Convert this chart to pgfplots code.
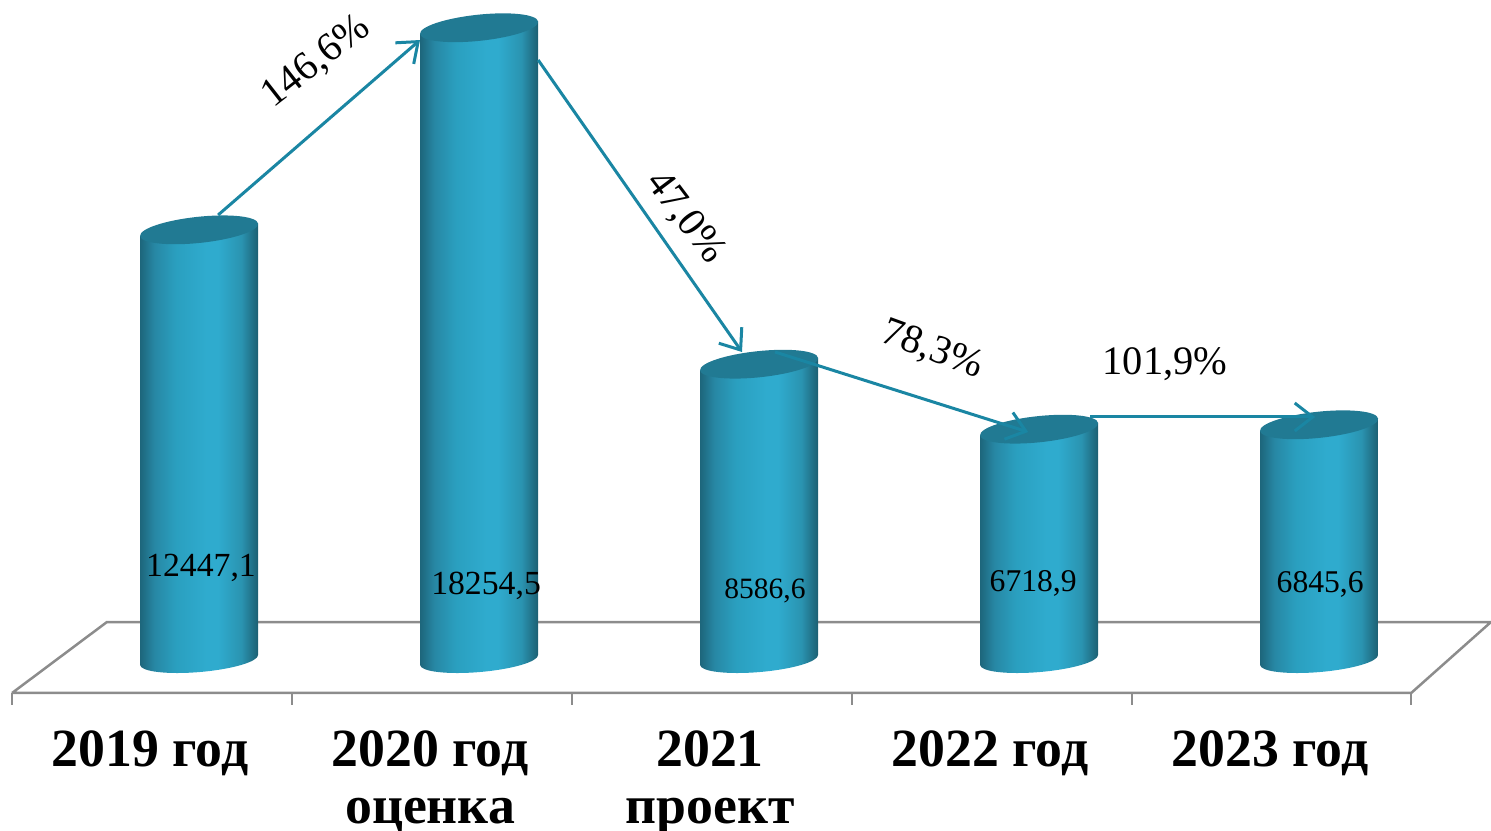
\documentclass[border=0pt]{standalone}
\usepackage{fontspec}
\setmainfont{Liberation Serif}
\usepackage{pgfplots}
\pgfplotsset{compat=1.18}
\usetikzlibrary{arrows.meta}

\definecolor{cyla}{HTML}{1D667B}
\definecolor{cylb}{HTML}{2787A4}
\definecolor{cylc}{HTML}{2A9FBF}
\definecolor{cyld}{HTML}{2FABCE}
\definecolor{cyle}{HTML}{2A93B0}
\definecolor{cylf}{HTML}{1C5F72}
\definecolor{cyltop}{HTML}{217A93}
\definecolor{arrowc}{HTML}{1A86A3}
\definecolor{floorc}{HTML}{8C8C8C}

% the path's box covers 25bp..75bp of the shading
\pgfdeclarehorizontalshading{cyl}{100bp}{color(0bp)=(cyla); color(25bp)=(cyla);
  color(31bp)=(cylb); color(40bp)=(cylc); color(53bp)=(cyld); color(58bp)=(cyld);
  color(68bp)=(cyle); color(75bp)=(cylf); color(100bp)=(cylf)}

\tikzset{growth/.style={arrowc,line width=0.3mm,
  -{Straight Barb[length=1.8mm,width=2.8mm]}}}

\begin{document}
\begin{tikzpicture}
\begin{axis}[
    set layers,
    clip mode=individual,
    scale only axis,
    width=14.91cm, height=6.93cm,
    xmin=-0.711, xmax=4.614,
    ymin=-862, ymax=19052,
    clip=false,
    axis y line=none,
    axis x line=bottom,
    x axis line style={draw=none},
    xtick={-0.175,0.825,1.825,2.825,3.825},
    xticklabels={2019 год,{2020 год\\оценка},{2021\\проект},2022 год,2023 год},
    minor xtick={-0.668,0.332,1.332,2.332,3.332,4.329},
    major tick length=0pt,
    minor tick length=1.2mm,
    tick align=outside,
    minor x tick style={draw=floorc,line width=0.25mm},
    xticklabel style={align=center,yshift=-2.5mm,
      font=\fontsize{15.3}{16.3}\selectfont\bfseries},
]
% floor
\addplot[floorc,line width=0.25mm] coordinates
  {(-0.668,-862) (4.329,-862) (4.614,1178) (-0.329,1178) (-0.668,-862)};

% cylinders, one for each value
\addplot[
    scatter, only marks, mark=*, mark size=0pt,
    mark options={draw=none,fill=none},
    visualization depends on={rawy/1000 \as \rawk},
    scatter/@pre marker code/.code={%
      \pgfmathsetmacro\hh{-\rawk*3.48+0.3}%
      \pgfmathsetmacro\hl{\hh-0.5}\pgfmathsetmacro\hr{\hh+0.5}%
      \pgfmathsetmacro\hm{\hh-1.2}%
      \path[draw=none,shade,shading=cyl] (-5.9mm,-0.62mm) -- (-5.9mm,\hl mm)
        .. controls (-5.85mm,\hl mm-0.66mm) and (-3.16mm,\hm mm-0.28mm) .. (0.1mm,\hm mm)
        .. controls (3.36mm,\hm mm+0.28mm) and (5.9mm,\hr mm-0.66mm) .. (5.9mm,\hr mm)
        -- (5.9mm,0.62mm) -- cycle;
      \pgfsetfillcolor{cyltop}%
      \pgfpathellipse{\pgfpointorigin}{\pgfpoint{5.9mm}{0.62mm}}{\pgfpoint{-0.14mm}{1.3mm}}%
      \pgfusepath{fill}%
      \scope},
    scatter/@post marker code/.code={\endscope},
] coordinates {(0,12447.1) (1,18254.5) (2,8586.6) (3,6718.9) (4,6845.6)};

% growth arrows
\addplot[growth] coordinates {(0.068,12874) (0.789,17902)};
\addplot[growth] coordinates {(1.211,17328) (1.939,8937)};
\addplot[growth] coordinates {(2.057,8937) (2.961,6638)};
\addplot[growth] coordinates {(3.182,7069) (3.986,7069)};

\pgfplotsextra{\begin{pgfonlayer}{axis foreground}
% values on the cylinders
\node[font=\fontsize{9.6}{10}\selectfont] at (axis cs:0.007,2730) {12447,1};
\node[font=\fontsize{9.6}{10}\selectfont] at (axis cs:1.025,2213) {18254,5};
\node[font=\fontsize{8.4}{10}\selectfont] at (axis cs:2.021,2069) {8586,6};
\node[font=\fontsize{9}{10}\selectfont] at (axis cs:2.979,2299) {6718,9};
\node[font=\fontsize{9}{10}\selectfont] at (axis cs:4.004,2271) {6845,6};
% percentages
\node[font=\fontsize{11.5}{12}\selectfont,rotate=38] at (axis cs:0.418,17270) {146,6\%};
\node[font=\fontsize{11.5}{12}\selectfont,rotate=-53] at (axis cs:1.736,12790) {47,0\%};
\node[font=\fontsize{11.5}{12}\selectfont,rotate=-20] at (axis cs:2.618,8994) {78,3\%};
\node[font=\fontsize{11.5}{12}\selectfont] at (axis cs:3.45,8592) {101,9\%};
\end{pgfonlayer}}
\end{axis}
\pgfresetboundingbox
\path (current axis.north west) rectangle ([yshift=-1.38cm]current axis.south east);
\end{tikzpicture}
\end{document}
